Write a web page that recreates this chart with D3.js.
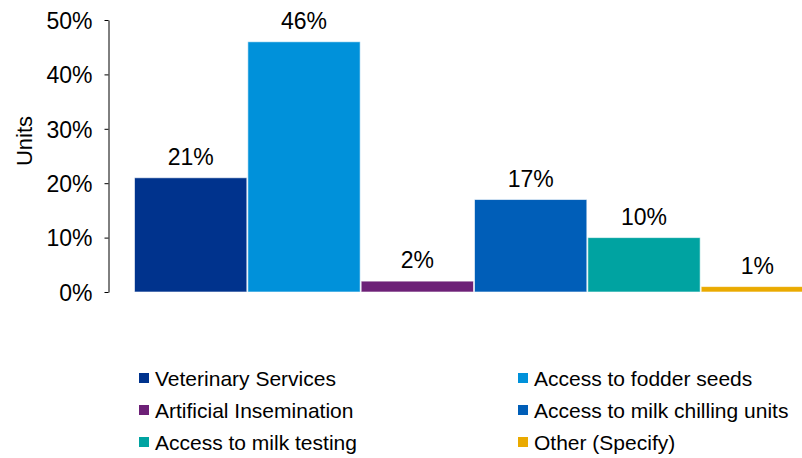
<!DOCTYPE html>
<html><head><meta charset="utf-8">
<script src="https://cdn.jsdelivr.net/npm/d3@7"></script>
<style>
html,body{margin:0;padding:0;background:#fff;overflow:hidden;}
svg{display:block;font-family:"Liberation Sans",Arial,sans-serif;}
</style></head>
<body>
<svg id="chart" width="802" height="458"></svg>
<script>
const categories = ["Veterinary Services","Access to fodder seeds","Artificial Insemination","Access to milk chilling units","Access to milk testing","Other (Specify)"];
const values = [21, 46, 2, 17, 10, 1];
const colors = ["#00338D","#0091DA","#6D2077","#005EB8","#00A3A1","#EAAA00"];
const yTicks = [0,10,20,30,40,50];

const svg = d3.select("#chart");
const x = d3.scaleBand().domain(categories).range([134, 814]).padding(0);
const y = d3.scaleLinear().domain([0, 50]).range([292, 20]);

// y axis
const yAxis = d3.axisLeft(y).tickValues(yTicks).tickFormat(d => d + "%").tickSizeInner(4).tickSizeOuter(0).tickPadding(12);
const ga = svg.append("g").attr("transform","translate(108.5,0)").call(yAxis);
ga.select(".domain").attr("stroke","#000").attr("stroke-width",1);
ga.selectAll(".tick line").attr("stroke","#000");
ga.selectAll(".tick text").attr("font-size",23).attr("fill","#000").attr("dy","0.36em")
  .attr("font-family","Liberation Sans, Arial, sans-serif");

svg.append("text").attr("transform","translate(32,141) rotate(-90)")
  .attr("text-anchor","middle").attr("font-size",22).attr("fill","#000").text("Units");

// bars
svg.append("g").selectAll("rect").data(categories).join("rect")
  .attr("x", d => x(d) + 0.5)
  .attr("width", x.bandwidth() - 1)
  .attr("y", (d,i) => y(values[i]))
  .attr("height", (d,i) => y(0) - y(values[i]))
  .attr("fill", (d,i) => colors[i])
  .attr("stroke", "rgba(255,255,255,0.6)")
  .attr("stroke-width", 1);

// value labels
svg.append("g").selectAll("text").data(categories).join("text")
  .attr("x", d => x(d) + x.bandwidth()/2)
  .attr("y", (d,i) => y(values[i]) - 13)
  .attr("text-anchor","middle").attr("font-size",23).attr("fill","#000")
  .text((d,i) => values[i] + "%");

// legend
const legX = [139, 518];
const legY = [378, 410, 442];
const lg = svg.append("g").selectAll("g").data(categories).join("g")
  .attr("transform", (d,i) => `translate(${legX[i%2]},${legY[Math.floor(i/2)]})`);
lg.append("rect").attr("x",0).attr("y",-5).attr("width",10).attr("height",10).attr("fill",(d,i)=>colors[i]);
lg.append("text").attr("x",16).attr("y",7.5).attr("font-size",21).attr("fill","#000").text(d => d);
</script>
</body></html>
